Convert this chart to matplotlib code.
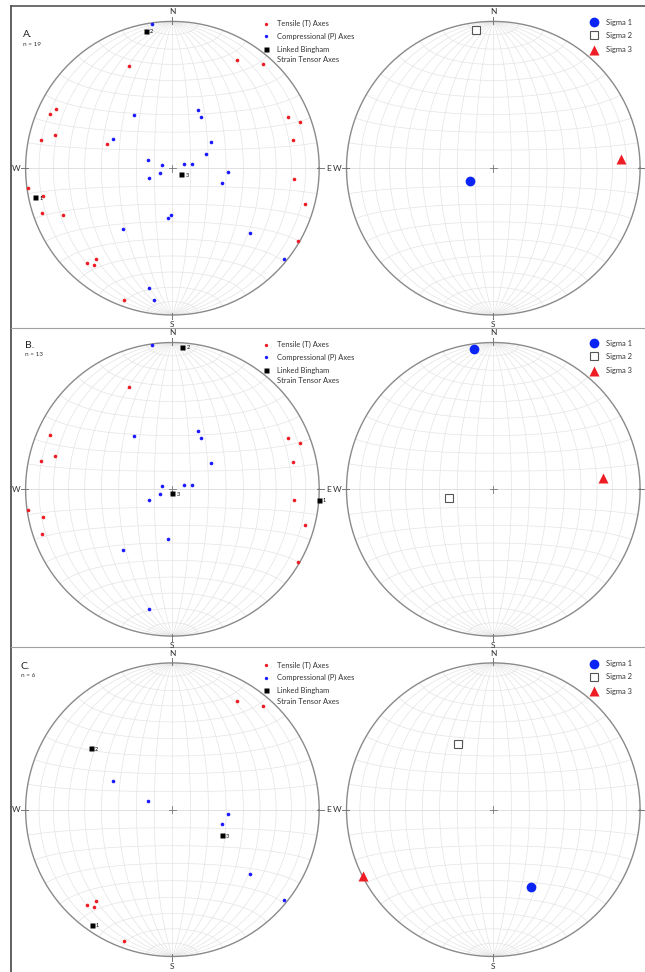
import numpy as np
import matplotlib

matplotlib.use("Agg")
import matplotlib.pyplot as plt

plt.rcParams["font.family"] = ["Lato", "DejaVu Sans"]

# lower hemisphere axes, trend / plunge in degrees
a_tensile_trend = [31, 41, 337, 297, 294, 286, 282, 290, 66, 70, 77, 95, 105, 120, 262, 258, 251, 247, 220, 222, 219, 200]
a_tensile_plunge = [15, 7, 25, 12, 10, 18, 9, 51, 15, 8, 17, 18, 7, 1, 1, 11, 7, 20, 20, 14, 16, 5]
a_comp_trend = [352, 324, 24, 29, 296, 56, 67, 289, 286, 70, 78, 250, 246, 94, 106, 182, 185, 219, 130, 129, 191, 188]
a_comp_plunge = [1, 53, 54, 57, 53, 64, 70, 76, 84, 83, 79, 83, 76, 59, 61, 64, 62, 46, 32, 2, 18, 10]
a_bingham_trend = [258, 349, 125]
a_bingham_plunge = [5, 5, 84]
a_sigma_trend = [241, 353, 86]
a_sigma_plunge = [75, 6, 14]

b_tensile_trend = [337, 294, 286, 282, 66, 70, 77, 95, 105, 120, 262, 258, 251]
b_tensile_plunge = [25, 10, 18, 9, 15, 8, 17, 18, 7, 1, 1, 11, 7]
b_comp_trend = [352, 324, 24, 29, 56, 286, 70, 78, 250, 246, 185, 219, 191]
b_comp_plunge = [1, 53, 54, 57, 64, 84, 83, 79, 83, 76, 62, 46, 18]
b_bingham_trend = [94, 4, 180]
b_bingham_plunge = [0, 3, 88]
b_sigma_trend = [352, 259, 84]
b_sigma_plunge = [4, 65, 26]

c_tensile_trend = [31, 41, 220, 222, 219, 200]
c_tensile_plunge = [15, 7, 20, 14, 16, 5]
c_comp_trend = [296, 289, 94, 106, 130, 129]
c_comp_plunge = [53, 76, 59, 61, 32, 2]
c_bingham_trend = [215, 307, 117]
c_bingham_plunge = [5, 31, 59]
c_sigma_trend = [154, 332, 243]
c_sigma_plunge = [41, 48, 0]

panel_names = ["A.", "B.", "C."]
panel_counts = ["n = 19", "n = 13", "n = 6"]
bingham_labels = ["1", "2", "3"]
sigma_labels = ["Sigma 1", "Sigma 2", "Sigma 3"]

RED = "#ee1c25"
BLUE = "#1a1aff"
W, H = 645, 972
R = 146.8


def project(trend, plunge):
    # equal-area (Schmidt) projection, primitive radius 1
    t = np.radians(np.asarray(trend, dtype=float))
    p = np.radians(np.asarray(plunge, dtype=float))
    e = np.cos(p) * np.sin(t)
    n = np.cos(p) * np.cos(t)
    k = 1.0 / np.sqrt(1.0 + np.sin(p))
    return e * k, n * k


def draw_net(ax):
    grid = dict(color="#e4e4e4", lw=0.5, zorder=1)
    phi = np.linspace(0, np.pi, 181)
    for ang in range(10, 90, 10):
        a = np.radians(ang)
        for sgn in (1, -1):
            # great circles striking N-S
            e = sgn * np.sin(phi) * np.cos(a)
            n = np.cos(phi)
            d = np.sin(phi) * np.sin(a)
            k = 1.0 / np.sqrt(1.0 + d)
            ax.plot(e * k, n * k, **grid)
            # small circles about the N-S axis
            e = np.sin(a) * np.cos(phi)
            n = sgn * np.cos(a) * np.ones_like(phi)
            d = np.sin(a) * np.sin(phi)
            k = 1.0 / np.sqrt(1.0 + d)
            ax.plot(e * k, n * k, **grid)
    ax.plot([0, 0], [-1, 1], **grid)
    ax.plot([-1, 1], [0, 0], color="#dcdcdc", lw=0.6, zorder=1)
    th = np.linspace(0, 2 * np.pi, 400)
    ax.plot(np.cos(th), np.sin(th), color="#8a8a8a", lw=1.0, zorder=2)
    for lab, ang in zip("NESW", [90, 0, 270, 180]):
        c, s = np.cos(np.radians(ang)), np.sin(np.radians(ang))
        ax.plot([0.985 * c, 1.03 * c], [0.985 * s, 1.03 * s], color="#777777", lw=0.7, zorder=2)
        ax.text(1.065 * c, 1.065 * s, lab, ha="center", va="center", fontsize=6, color="#333333",
                clip_on=False)
    ax.plot([-0.025, 0.025], [0, 0], color="#777777", lw=0.6, zorder=2)
    ax.plot([0, 0], [-0.025, 0.025], color="#777777", lw=0.6, zorder=2)
    ax.set_xlim(-1.2, 1.2)
    ax.set_ylim(-1.2, 1.2)
    ax.axis("off")


def net_axes(fig, cx, cy):
    k = 1.2
    return fig.add_axes([(cx - R * k) / W, 1 - (cy + R * k) / H, 2 * R * k / W, 2 * R * k / H])


fig = plt.figure(figsize=(W / 100, H / 100), dpi=100)

bg = fig.add_axes([0, 0, 1, 1])
bg.set_xlim(0, W)
bg.set_ylim(H, 0)
bg.axis("off")
bg.plot([10.7, 10.7], [6, H], color="#555555", lw=1.3)
bg.plot([10.7, W], [6, 6], color="#555555", lw=1.2)
for ysep in [328.3, 646.5]:
    bg.plot([10.7, W], [ysep, ysep], color="#a0a0a0", lw=0.8)

rows = [
    (a_tensile_trend, a_tensile_plunge, a_comp_trend, a_comp_plunge,
     a_bingham_trend, a_bingham_plunge, a_sigma_trend, a_sigma_plunge),
    (b_tensile_trend, b_tensile_plunge, b_comp_trend, b_comp_plunge,
     b_bingham_trend, b_bingham_plunge, b_sigma_trend, b_sigma_plunge),
    (c_tensile_trend, c_tensile_plunge, c_comp_trend, c_comp_plunge,
     c_bingham_trend, c_bingham_plunge, c_sigma_trend, c_sigma_plunge),
]
row_cy = [168.2, 489.3, 809.7]
label_pos = [(23.3, 34.5, 45.0), (25.0, 345.5, 355.0), (20.7, 666.0, 675.5)]

for i, (tt, tp, ct, cp, bt, bp, st, sp) in enumerate(rows):
    cy = row_cy[i]

    # left net: P / T axes and linked Bingham axes
    ax = net_axes(fig, 172.4, cy)
    draw_net(ax)
    x, y = project(tt, tp)
    ax.plot(x, y, "o", color=RED, ms=2.6, mec="none", zorder=4)
    x, y = project(ct, cp)
    ax.plot(x, y, "o", color=BLUE, ms=2.6, mec="none", zorder=4)
    x, y = project(bt, bp)
    ax.plot(x, y, "s", color="black", ms=3.6, mec="none", zorder=5)
    for xi, yi, lab in zip(x, y, bingham_labels):
        ax.text(xi + 0.028, yi - 0.008, lab, fontsize=4, ha="left", va="center", zorder=5)

    # legend
    lx, tx = 93.3 / R, 104.9 / R
    ax.plot(lx, 144.5 / R, "o", color=RED, ms=2.4, mec="none", clip_on=False)
    ax.plot(lx, 132.0 / R, "o", color=BLUE, ms=2.4, mec="none", clip_on=False)
    ax.plot(lx, 119.2 / R, "s", color="black", ms=3.6, mec="none", clip_on=False)
    leg = dict(fontsize=5.4, ha="left", va="center", color="#333333", clip_on=False)
    ax.text(tx, 144.5 / R, "Tensile (T) Axes", **leg)
    ax.text(tx, 132.0 / R, "Compressional (P) Axes", **leg)
    ax.text(tx, 119.2 / R, "Linked Bingham", **leg)
    ax.text(tx, 108.6 / R, "Strain Tensor Axes", **leg)

    # right net: principal stress axes
    ax = net_axes(fig, 493.3, cy)
    draw_net(ax)
    x, y = project(st, sp)
    ax.plot(x[0], y[0], "o", color="#0a24f5", ms=7.0, mec="none", zorder=5)
    ax.plot(x[1], y[1], "s", mfc="white", mec="#555555", mew=0.8, ms=6.4, zorder=5)
    ax.plot(x[2], y[2], "^", color=RED, ms=7.6, mec="none", zorder=5)

    mx, tx = 100.7 / R, 112.7 / R
    ax.plot(mx, 146.0 / R, "o", color="#0a24f5", ms=7.0, mec="none", clip_on=False)
    ax.plot(mx, 133.0 / R, "s", mfc="white", mec="#555555", mew=0.8, ms=6.4, clip_on=False)
    ax.plot(mx, 118.5 / R, "^", color=RED, ms=7.6, mec="none", clip_on=False)
    for yy, lab in zip([146.0, 133.0, 118.5], sigma_labels):
        ax.text(tx, yy / R, lab, **leg)

    px, py, ny = label_pos[i]
    fig.text(px / W, 1 - py / H, panel_names[i], fontsize=7.5, ha="left", va="center", color="#222222")
    fig.text(px / W, 1 - ny / H, panel_counts[i], fontsize=4.6, ha="left", va="center", color="#333333")

fig.savefig("out.png", dpi=100)
